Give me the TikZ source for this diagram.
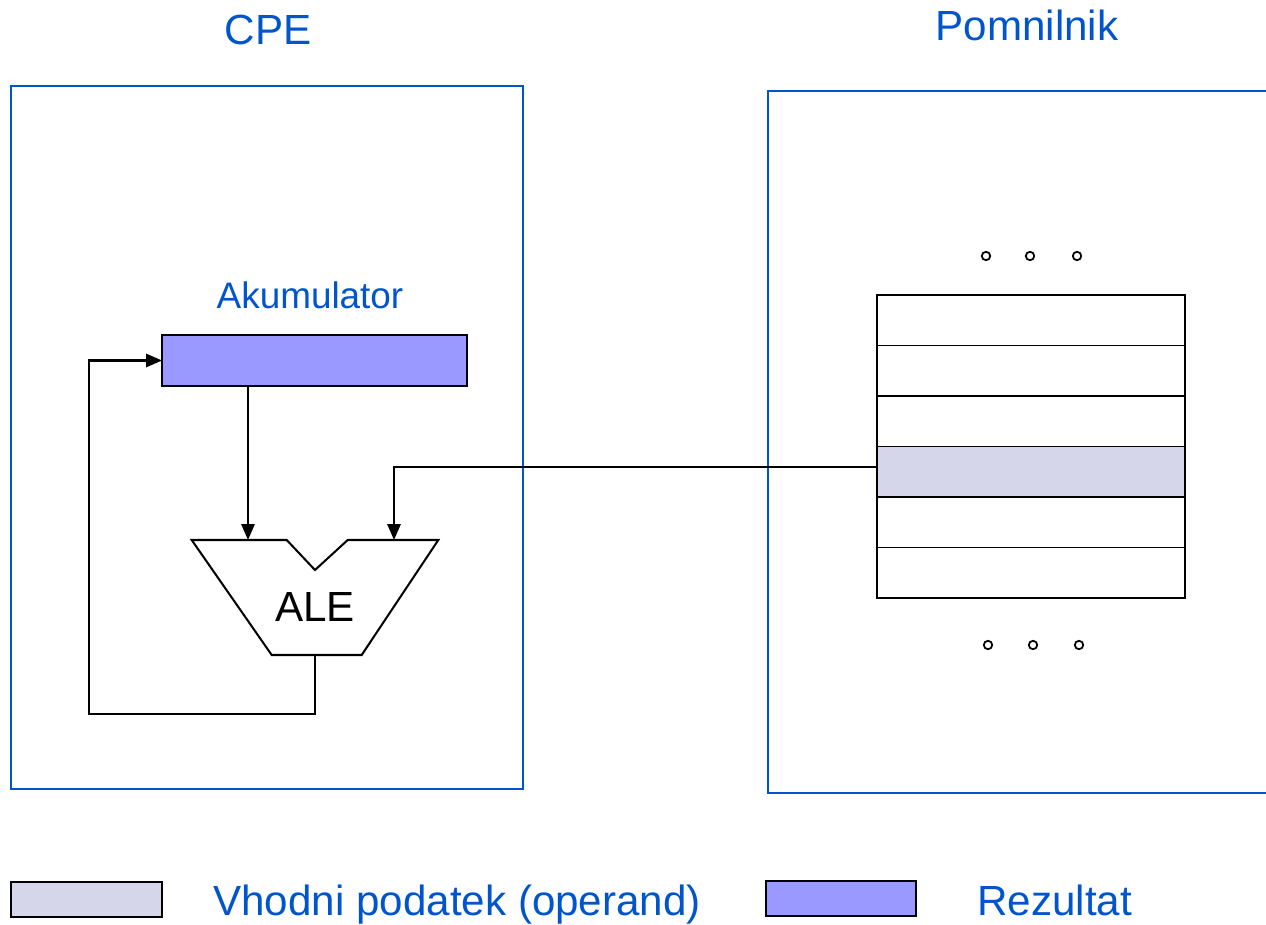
\documentclass[tikz,border=0pt]{standalone}
\usepackage{fontspec}
\setmainfont{Liberation Sans}
\usetikzlibrary{positioning,arrows.meta}
\definecolor{cpeblue}{RGB}{0,85,204}
\definecolor{resfill}{RGB}{153,153,255}
\definecolor{opfill}{RGB}{214,214,234}
\newcommand\bigfont{\fontsize{24}{28}\selectfont}
\newcommand\midfont{\fontsize{21}{25}\selectfont}
\tikzset{
  unitline/.style={draw=cpeblue,line width=1.4pt},
  title/.style={text=cpeblue,font=\bigfont},
  cell/.style={draw,line width=1.1pt,minimum width=6.16cm,minimum height=1.01cm,inner sep=0,outer sep=0},
  accbox/.style={draw,fill=resfill,line width=1.5pt,minimum width=6.1cm,minimum height=1.02cm,inner sep=0,outer sep=0},
  wire/.style={line width=1.15pt},
  feed/.style={wire,-{Triangle[length=9pt,width=7.5pt]}},
  ring/.style={line width=1pt}
}

\begin{document}
\begin{tikzpicture}[x=0.02cm,y=-0.02cm]
        \useasboundingbox (0,0) rectangle (1266,925);

        % The CPU
        \draw[unitline] (11,86) rectangle (523,789);
        \node[title] (cpe) at (268,30) {CPE};
        \node[text=cpeblue,font=\midfont] (acclabel) at (310,295) {Akumulator};
        \node[accbox] (acc) at (314.5,360.5) {};

        % The ALU
        \draw[wire] (191.7,540) -- (286.7,540) -- (315,570) -- (347.7,540)
          -- (438.3,540) -- (361.7,655) -- (271.7,655) -- cycle;
        \node[font=\bigfont] (ale) at (315,607) {ALE};
        \coordinate (alein1) at (248,540);
        \coordinate (alein2) at (394,540);
        \coordinate (aleout) at (315,655);

        % The memory
        \draw[unitline] (1266,91) -- (768,91) -- (768,793) -- (1266,793);
        \node[title] (mem) at (1027,25) {Pomnilnik};
        \foreach \f [count=\i] in {white,white,white,opfill,white,white}
          \node[cell,fill=\f] (cell\i) at (1031,{320.25+50.5*(\i-1)}) {};
        \foreach \x in {986,1030,1077}
          \draw[ring] (\x,256) circle (2.4pt);
        \foreach \x in {988,1033,1079}
          \draw[ring] (\x,645) circle (2.4pt);

        % Data paths
        \draw[feed] (acc.south -| alein1) -- (alein1);
        \draw[feed] ([yshift=2.5]cell4.west) -| (alein2);
        \draw[feed] (aleout) |- (89,714) |- (acc.west);

        % Legend
        \node[cell,fill=opfill,minimum width=3.02cm,minimum height=0.7cm] (legop) at (86.5,899.5) {};
        \node[title,anchor=base west,inner sep=0] (legoptext) at (213,915.5) {Vhodni podatek (operand)};
        \node[cell,fill=resfill,minimum width=3cm,minimum height=0.7cm] (legres) at (841,898.5) {};
        \node[title,anchor=base west,inner sep=0] (legrestext) at (977,915.5) {Rezultat};
\end{tikzpicture}
\end{document}
